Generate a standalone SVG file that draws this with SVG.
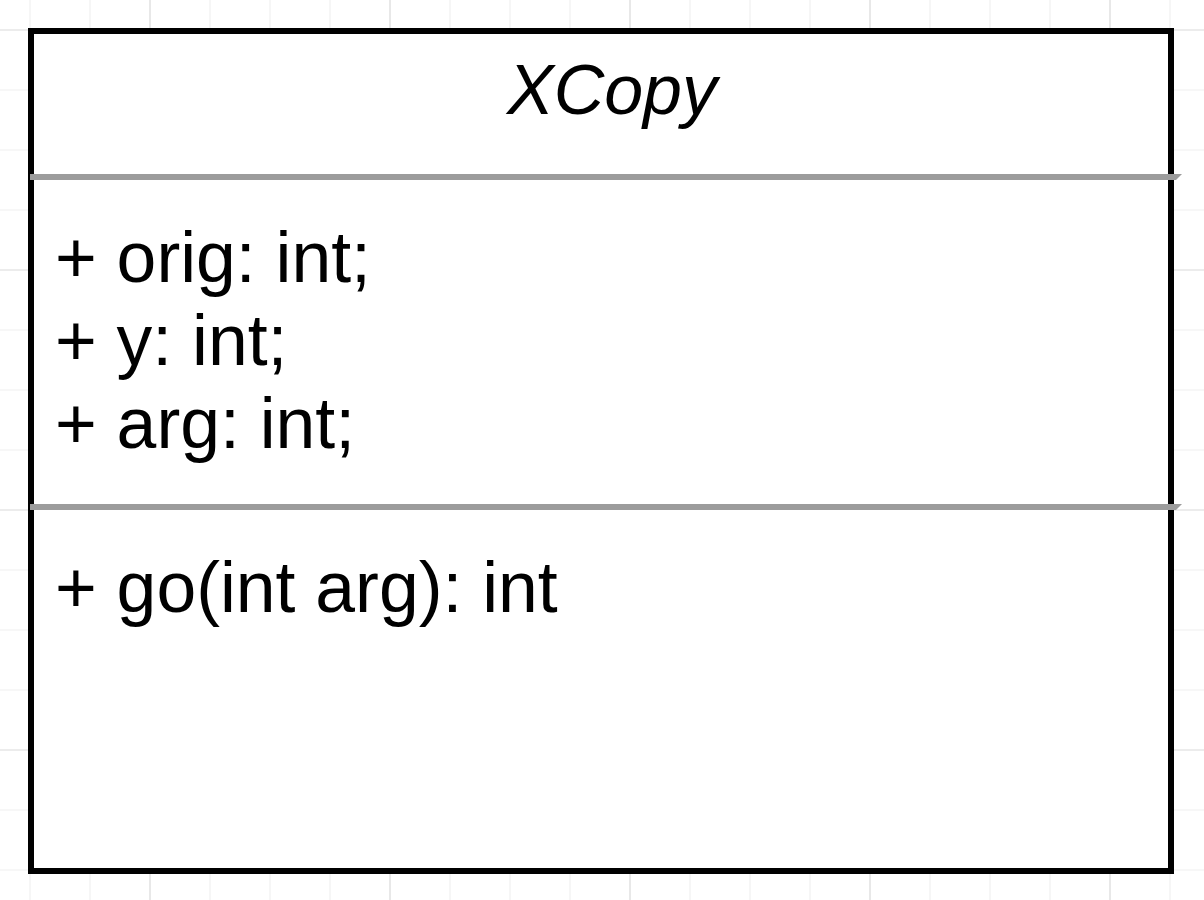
<svg xmlns="http://www.w3.org/2000/svg" width="1204" height="900" viewBox="0 0 1204 900">
<style>
.minor{stroke:#f0f0f0;stroke-width:1.2;fill:none}
.major{stroke:#d9d9d9;stroke-width:1.2;fill:none}
.txt{font-family:"Liberation Sans",Arial,sans-serif;font-size:71.5px;fill:#000}
.title{font-family:"Liberation Sans",Arial,sans-serif;font-size:70px;font-style:italic;fill:#000}
.div{fill:#9c9c9c}
</style>
<rect width="1204" height="900" fill="#ffffff"/>
<g id="grid">
<path class="minor" d="M30 0V900M90 0V900M210 0V900M270 0V900M330 0V900M450 0V900M510 0V900M570 0V900M690 0V900M750 0V900M810 0V900M930 0V900M990 0V900M1050 0V900M1170 0V900M0 90H1204M0 150H1204M0 210H1204M0 330H1204M0 390H1204M0 450H1204M0 570H1204M0 630H1204M0 690H1204M0 810H1204M0 870H1204"/>
<path class="major" d="M150 0V900M390 0V900M630 0V900M870 0V900M1110 0V900M0 30H1204M0 270H1204M0 510H1204M0 750H1204"/>
</g>
<g id="XCopy">
<rect x="31" y="31" width="1140" height="840" fill="#ffffff" stroke="#000000" stroke-width="6"/>
<polygon class="div" points="30,174 1182,174 1176,180 30,180"/>
<polygon class="div" points="30,504 1182,504 1176,510 30,510"/>
<text class="title" x="612" y="114" text-anchor="middle">XCopy</text>
<text class="txt" x="55" y="282">+ orig: int;</text>
<text class="txt" x="55" y="365">+ y: int;</text>
<text class="txt" x="55" y="448">+ arg: int;</text>
<text class="txt" x="55" y="612">+ go(int arg): int</text>
</g>
<g id="connectors"/>
</svg>
